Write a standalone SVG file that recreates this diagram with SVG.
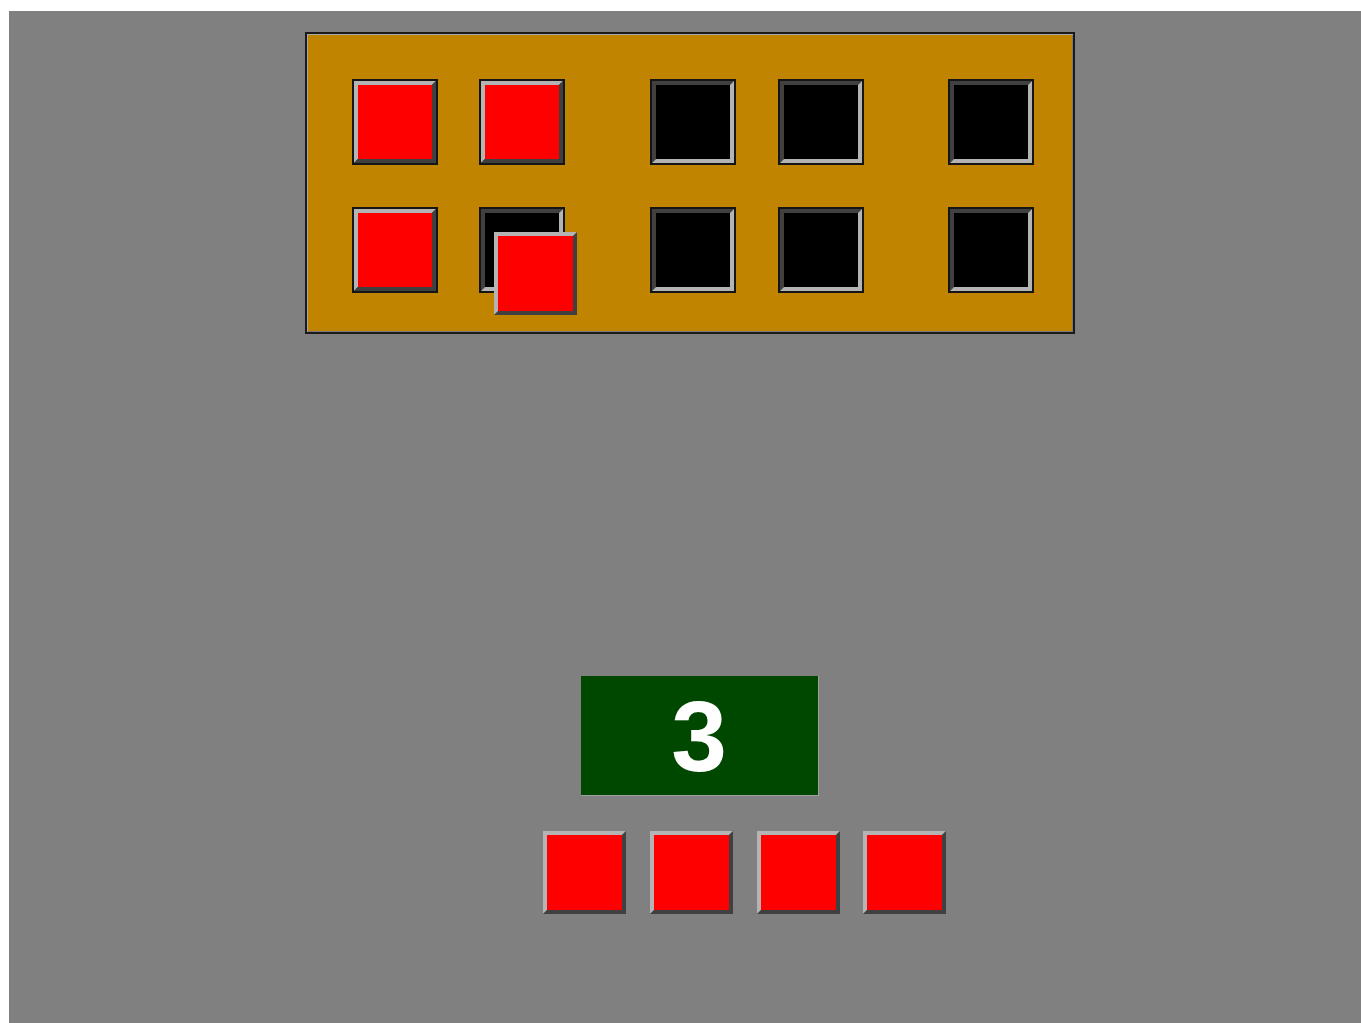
<svg xmlns="http://www.w3.org/2000/svg" xmlns:xlink="http://www.w3.org/1999/xlink" width="1361" height="1023" viewBox="0 0 1361 1023">
<style>
.light{fill:#b4b4b4}
.dark{fill:#404040}
.red{fill:#ff0000}
.blk{fill:#000000}
.edge{fill:#151515}
.num{font-family:"Liberation Sans",Arial,sans-serif;font-weight:bold;font-size:100px;fill:#ffffff}
</style>
<defs>
<symbol id="cellRed" overflow="visible">
<rect class="edge" x="0" y="0" width="86" height="86"/>
<polygon class="light" points="2,2 84,2 80,6 6,6 6,80 2,84"/>
<polygon class="dark" points="84,2 84,84 2,84 6,80 80,80 80,6"/>
<rect class="red" x="6" y="6" width="74" height="74"/>
</symbol>
<symbol id="cellBlack" overflow="visible">
<rect class="edge" x="0" y="0" width="86" height="86"/>
<polygon class="dark" points="2,2 84,2 80,6 6,6 6,80 2,84"/>
<polygon class="light" points="84,2 84,84 2,84 6,80 80,80 80,6"/>
<rect class="blk" x="6" y="6" width="74" height="74"/>
</symbol>
<symbol id="tile" overflow="visible">
<polygon class="light" points="0,0 83,0 79,4 4,4 4,79 0,83"/>
<polygon class="dark" points="83,0 83,83 0,83 4,79 79,79 79,4"/>
<rect class="red" x="4" y="4" width="75" height="75"/>
</symbol>
</defs>
<rect x="0" y="0" width="1361" height="1023" fill="#ffffff"/>
<rect x="9" y="11" width="1352" height="1012" fill="#808080"/>
<g id="frame">
<rect x="305" y="32" width="770" height="302" fill="#1a1a1a"/>
<rect x="307" y="34" width="766" height="298" fill="#a8a8a8"/>
<rect x="308" y="35" width="765" height="297" fill="#7a7a7a"/>
<rect x="308" y="35" width="764" height="296" fill="#c18400"/>
</g>
<g id="cells">
<use id="c1" xlink:href="#cellRed" x="352" y="79"/>
<use id="c2" xlink:href="#cellRed" x="479" y="79"/>
<use id="c3" xlink:href="#cellBlack" x="650" y="79"/>
<use id="c4" xlink:href="#cellBlack" x="778" y="79"/>
<use id="c5" xlink:href="#cellBlack" x="948" y="79"/>
<use id="c6" xlink:href="#cellRed" x="352" y="207"/>
<use id="c7" xlink:href="#cellBlack" x="479" y="207"/>
<use id="c8" xlink:href="#cellBlack" x="650" y="207"/>
<use id="c9" xlink:href="#cellBlack" x="778" y="207"/>
<use id="c10" xlink:href="#cellBlack" x="948" y="207"/>
</g>
<g id="dragged">
<use xlink:href="#tile" x="494" y="232"/>
</g>
<g id="counter">
<rect x="581" y="676" width="238" height="120" fill="#a0a0a0"/>
<rect x="581" y="676" width="237" height="119" fill="#004800"/>
<text class="num" x="699" y="771" text-anchor="middle">3</text>
</g>
<g id="tiles">
<use id="t1" xlink:href="#tile" x="543" y="831"/>
<use id="t2" xlink:href="#tile" x="650" y="831"/>
<use id="t3" xlink:href="#tile" x="757" y="831"/>
<use id="t4" xlink:href="#tile" x="863" y="831"/>
</g>
<g id="connectors"/>
</svg>
